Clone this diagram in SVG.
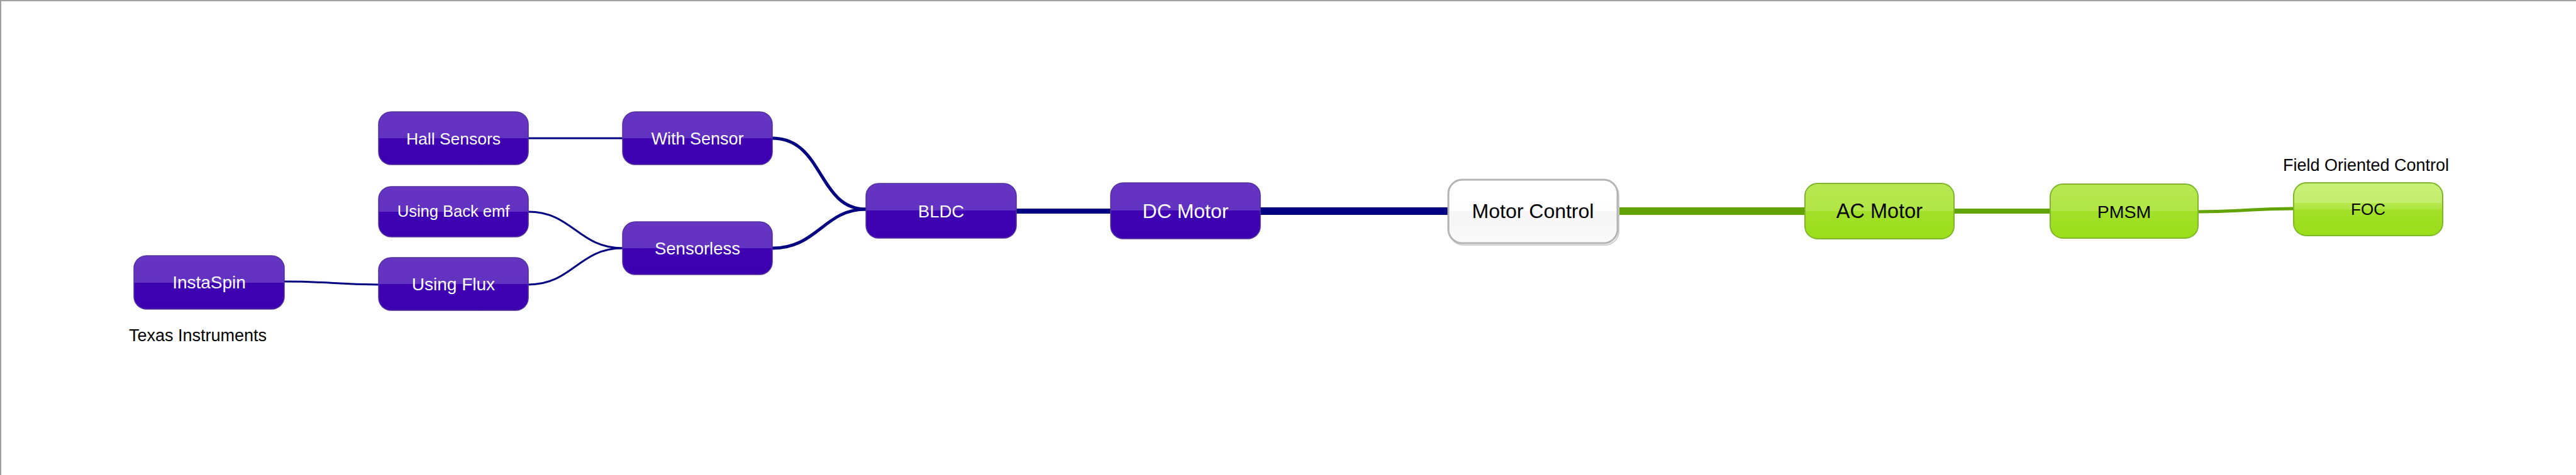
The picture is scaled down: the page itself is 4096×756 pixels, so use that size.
<svg xmlns="http://www.w3.org/2000/svg" width="4096" height="756" viewBox="0 0 4096 756">
<defs>
<linearGradient id="gPurple" x1="0" y1="0" x2="0" y2="1">
<stop offset="0" stop-color="#6634c2"/>
<stop offset="0.5" stop-color="#6232c0"/>
<stop offset="0.5" stop-color="#3e02b2"/>
<stop offset="1" stop-color="#3c00b0"/>
</linearGradient>
<linearGradient id="gGreen" x1="0" y1="0" x2="0" y2="1">
<stop offset="0" stop-color="#b8e852"/>
<stop offset="0.5" stop-color="#b2e646"/>
<stop offset="0.5" stop-color="#a2e02a"/>
<stop offset="1" stop-color="#9ade18"/>
</linearGradient>
<linearGradient id="gGreenLight" x1="0" y1="0" x2="0" y2="1">
<stop offset="0" stop-color="#c8f077"/>
<stop offset="0.38" stop-color="#c4ee6e"/>
<stop offset="0.38" stop-color="#b4e84c"/>
<stop offset="0.5" stop-color="#b0e644"/>
<stop offset="0.5" stop-color="#a2e02a"/>
<stop offset="1" stop-color="#9ade18"/>
</linearGradient>
<linearGradient id="gWhite" x1="0" y1="0" x2="0" y2="1">
<stop offset="0" stop-color="#ffffff"/>
<stop offset="0.5" stop-color="#fefefe"/>
<stop offset="0.5" stop-color="#f6f6f6"/>
<stop offset="1" stop-color="#f9f9f9"/>
</linearGradient>
</defs>
<style>
.pn { fill: url(#gPurple); stroke: #52309f; stroke-width: 1.5; }
.gn { fill: url(#gGreen); stroke: #7fb52a; stroke-width: 2; }
.gnl { fill: url(#gGreenLight); stroke: #7fb52a; stroke-width: 2; }
.wn { fill: url(#gWhite); stroke: #b4b4b4; stroke-width: 3; }
.sh { fill: none; stroke: #d0d0d0; stroke-width: 2; }
.t { font-family: "Liberation Sans", Arial, sans-serif; text-anchor: middle; }
.tw { fill: #ffffff; }
.tb { fill: #000000; }
.lbl { font-family: "Liberation Sans", Arial, sans-serif; font-size: 27px; fill: #000000; }
.cn { fill: none; stroke: #000080; stroke-linecap: butt; }
.cg { fill: none; stroke: #62a300; stroke-linecap: butt; }
</style>
<rect x="0" y="0" width="4096" height="756" fill="#ffffff"/>
<path d="M1,756 V1 H4096" fill="none" stroke="#a0a0a0" stroke-width="2"/>

<g id="connectors">
<path class="cn" d="M2004,336 H2303" stroke-width="12"/>
<path class="cn" d="M1616,336 H1766" stroke-width="8"/>
<path class="cn" d="M1228,220 C1310,220 1300,333 1377,333" stroke-width="5"/>
<path class="cn" d="M1228,395 C1300,395 1310,333 1377,333" stroke-width="5"/>
<path class="cn" d="M840,220 H990" stroke-width="3"/>
<path class="cn" d="M840,337 C910,337 920,395 990,395" stroke-width="3"/>
<path class="cn" d="M840,453 C910,453 920,395 990,395" stroke-width="3"/>
<path class="cn" d="M452,448 C530,448 530,453 602,453" stroke-width="3"/>
<path class="cg" d="M2572,336 H2870" stroke-width="12"/>
<path class="cg" d="M3107,336 H3260" stroke-width="8"/>
<path class="cg" d="M3495,337 C3570,337 3570,332 3647,332" stroke-width="5"/>
</g>

<g id="node-motor-control">
<rect class="sh" x="2305" y="289" width="269" height="101" rx="22"/>
<rect class="wn" x="2303" y="286" width="269" height="101" rx="22"/>
<text class="t tb" x="2437.5" y="347" font-size="32">Motor Control</text>
</g>

<g id="node-dc-motor">
<rect class="pn" x="1766" y="291" width="238" height="89" rx="20"/>
<text class="t tw" x="1885" y="347" font-size="32">DC Motor</text>
</g>

<g id="node-bldc">
<rect class="pn" x="1377" y="292" width="239" height="87" rx="20"/>
<text class="t tw" x="1496.5" y="346" font-size="27.5">BLDC</text>
</g>

<g id="node-with-sensor">
<rect class="pn" x="990" y="178" width="238" height="84" rx="20"/>
<text class="t tw" x="1109" y="230" font-size="27">With Sensor</text>
</g>

<g id="node-sensorless">
<rect class="pn" x="990" y="353" width="238" height="84" rx="20"/>
<text class="t tw" x="1109" y="405" font-size="27.5">Sensorless</text>
</g>

<g id="node-hall-sensors">
<rect class="pn" x="602" y="178" width="238" height="84" rx="20"/>
<text class="t tw" x="721" y="230" font-size="26.5">Hall Sensors</text>
</g>

<g id="node-using-back-emf">
<rect class="pn" x="602" y="297" width="238" height="80" rx="20"/>
<text class="t tw" x="721" y="345" font-size="25.5">Using Back emf</text>
</g>

<g id="node-using-flux">
<rect class="pn" x="602" y="410" width="238" height="84" rx="20"/>
<text class="t tw" x="721" y="462" font-size="28">Using Flux</text>
</g>

<g id="node-instaspin">
<rect class="pn" x="213" y="407" width="239" height="85" rx="20"/>
<text class="t tw" x="332.5" y="459" font-size="28">InstaSpin</text>
<text class="lbl" x="205" y="543">Texas Instruments</text>
</g>

<g id="node-ac-motor">
<rect class="gn" x="2870" y="292" width="237" height="88" rx="20"/>
<text class="t tb" x="2988.5" y="347" font-size="32.5">AC Motor</text>
</g>

<g id="node-pmsm">
<rect class="gn" x="3260" y="293" width="235" height="86" rx="20"/>
<text class="t tb" x="3377.5" y="347" font-size="28.5">PMSM</text>
</g>

<g id="node-foc">
<rect class="gnl" x="3647" y="291" width="237" height="84" rx="20"/>
<text class="t tb" x="3765.5" y="342" font-size="26">FOC</text>
<text class="lbl" x="3630" y="272">Field Oriented Control</text>
</g>
</svg>
